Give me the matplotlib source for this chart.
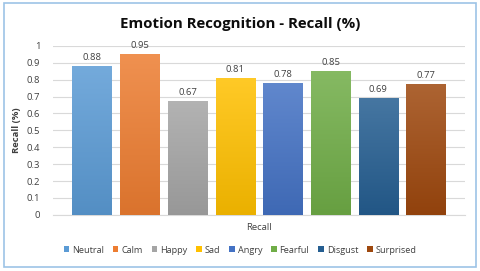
import matplotlib
matplotlib.use("Agg")
import matplotlib.pyplot as plt
import numpy as np
from matplotlib.colors import to_rgb, LinearSegmentedColormap
from matplotlib.patches import Rectangle, Patch

categories = ["Neutral", "Calm", "Happy", "Sad", "Angry", "Fearful", "Disgust", "Surprised"]
recall = [0.88, 0.95, 0.67, 0.81, 0.78, 0.85, 0.69, 0.77]
colors = ["#5B9BD5", "#ED7D31", "#A5A5A5", "#FFC000", "#4472C4", "#70AD47", "#255E91", "#9E480E"]
yticks = [0, 0.1, 0.2, 0.3, 0.4, 0.5, 0.6, 0.7, 0.8, 0.9, 1]

plt.rcParams['font.family'] = ['Open Sans', 'DejaVu Sans']

fig = plt.figure(figsize=(4.8, 2.71), dpi=100)
ax = fig.add_axes([0.110, 0.207, 0.859, 0.624])

x = np.arange(len(categories))
bars = ax.bar(x, recall, width=0.82, color=colors, zorder=2)

def lighten(c, f):
    r = np.array(to_rgb(c))
    return tuple(r + (1 - r) * f)

def darken(c, f):
    r = np.array(to_rgb(c))
    return tuple(r * (1 - f))

for b, c in zip(bars, colors):
    cmap = LinearSegmentedColormap.from_list("g", [darken(c, 0.08), lighten(c, 0.15)])
    grad = np.linspace(0, 1, 64).reshape(-1, 1)
    x0, y0 = b.get_x(), b.get_y()
    w, h = b.get_width(), b.get_height()
    ax.imshow(grad, cmap=cmap, extent=[x0, x0 + w, y0, y0 + h], origin="lower",
              aspect="auto", zorder=3)
    b.set_alpha(0)

for xi, v in zip(x, recall):
    ax.text(xi, v + 0.025, f"{v:.2f}", ha="center", va="bottom", fontsize=6.8, color="#404040")

ax.set_xlim(-0.82, len(categories) - 1 + 0.82)
ax.set_ylim(0, 1)
ax.set_yticks(yticks)
ax.set_yticklabels([f"{t:g}" for t in yticks], fontsize=6.8, color="#404040")
ax.set_xticks([])
ax.tick_params(axis="y", length=0, pad=9)
ax.grid(axis="y", color="#D9D9D9", linewidth=0.8, zorder=0)
for s in ["top", "right", "left"]:
    ax.spines[s].set_visible(False)
ax.spines["bottom"].set_color("#D9D9D9")
ax.spines["bottom"].set_zorder(1)

ax.set_ylabel("Recall (%)", fontsize=6.8, fontweight="bold", color="#404040", labelpad=4)
ax.set_xlabel("Recall", fontsize=6.8, color="#404040", labelpad=6)

fig.text(0.5, 0.912, "Emotion Recognition - Recall (%)", ha="center", va="center",
         fontsize=10.8, fontweight="bold", color="#0D0D0D")

handles = [Patch(facecolor=c, edgecolor="none") for c in colors]
fig.legend(handles, categories, loc="center", bbox_to_anchor=(0.5, 0.077), ncol=8,
           frameon=False, fontsize=6.6, handlelength=0.6, handleheight=0.6,
           handletextpad=0.3, columnspacing=1.0, labelcolor="#404040")

fig.patches.append(Rectangle((0.008, 0.015), 0.984, 0.975, transform=fig.transFigure,
                             fill=False, edgecolor="#9DC3E6", linewidth=1.2))

fig.savefig("out.png", dpi=100)
